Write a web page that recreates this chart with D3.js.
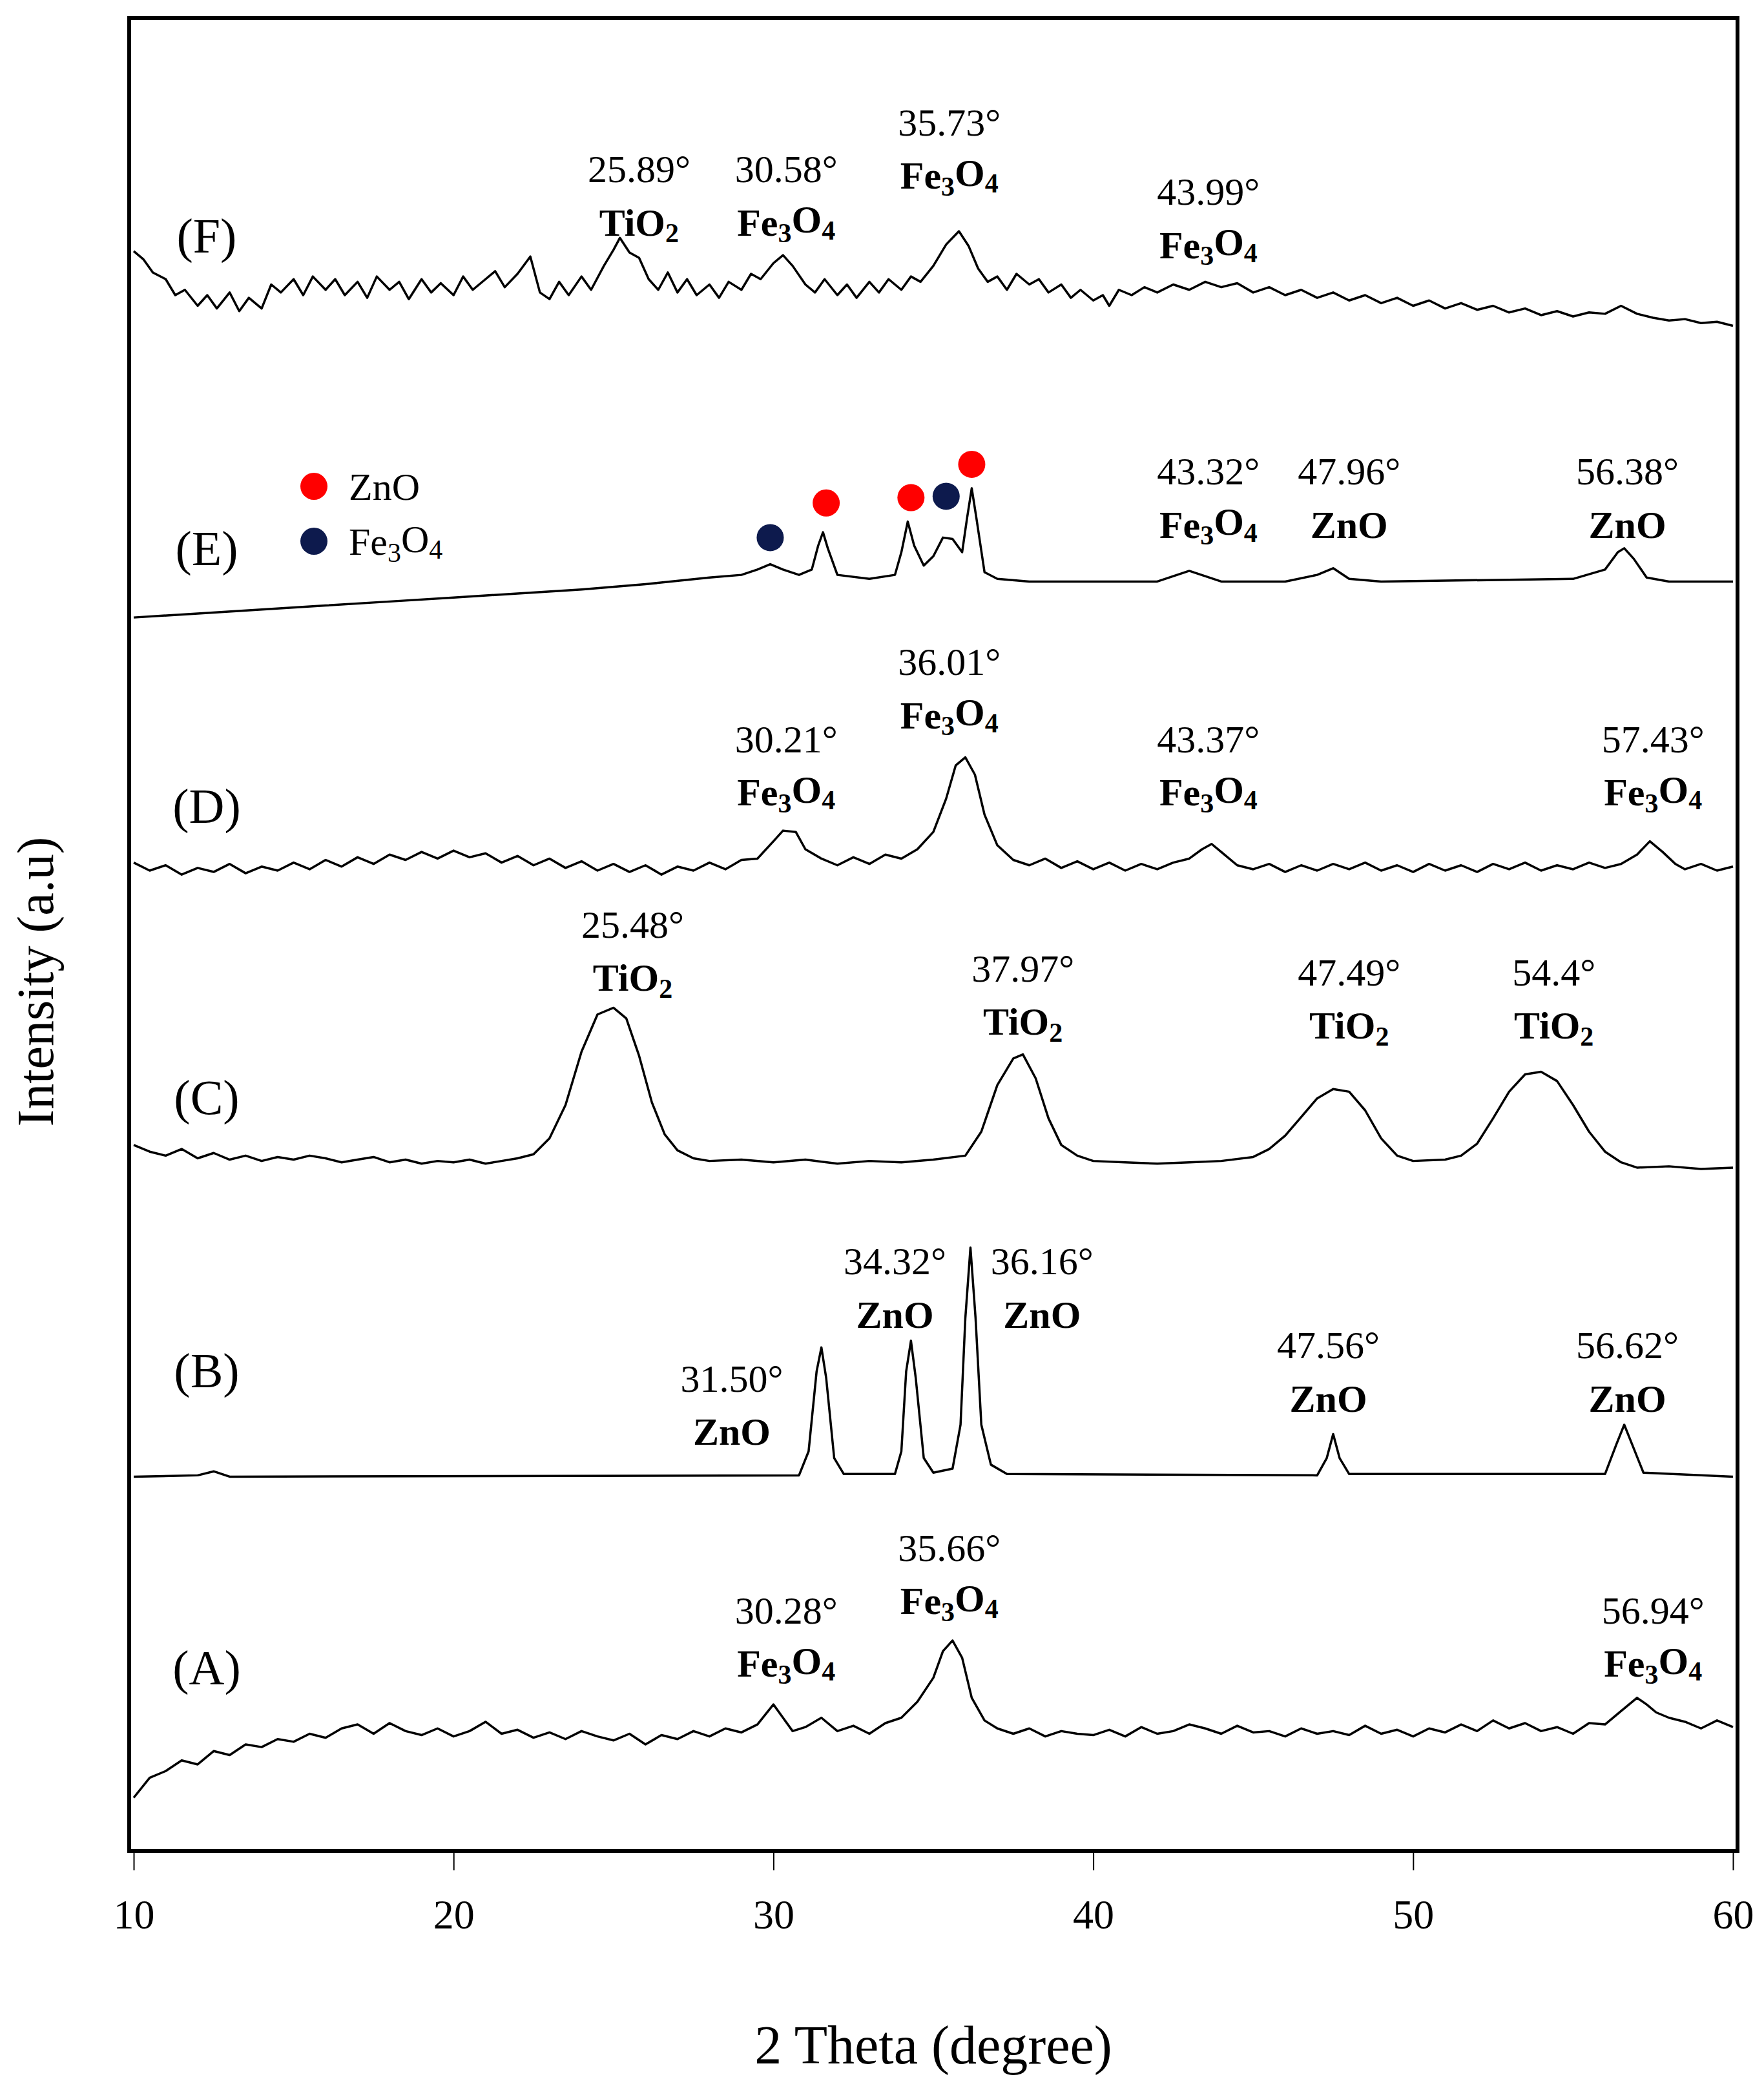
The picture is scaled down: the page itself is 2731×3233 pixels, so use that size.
<!DOCTYPE html>
<html><head><meta charset="utf-8">
<script src="https://cdn.jsdelivr.net/npm/d3@7"></script>
<style>body{margin:0;background:#fff}</style></head>
<body><svg id="c" width="2731" height="3233"></svg>
<script>
// Data: [2theta, intensity (arbitrary, stacked offset)]
const seriesA = [[10,40],[10.5,55],[11,60],[11.5,68],[12,65],[12.5,75],[13,72],[13.5,80],[14,78],[14.5,84],[15,82],[15.5,88],[16,85],[16.5,92],[17,95],[17.5,88],[18,96],[18.5,90],[19,87],[19.5,92],[20,86],[20.5,90],[21,97],[21.5,88],[22,91],[22.5,85],[23,89],[23.5,84],[24,90],[24.5,86],[25,83],[25.5,88],[26,80],[26.5,87],[27,84],[27.5,90],[28,86],[28.5,92],[29,89],[29.5,95],[30,110],[30.3,100],[30.6,90],[31,93],[31.5,100],[32,90],[32.5,94],[33,88],[33.5,96],[34,100],[34.5,112],[35,130],[35.3,150],[35.6,158],[35.9,145],[36.2,115],[36.6,98],[37,92],[37.5,88],[38,92],[38.5,86],[39,90],[39.5,88],[40,87],[40.5,91],[41,86],[41.5,93],[42,88],[42.5,90],[43,95],[43.5,92],[44,88],[44.5,94],[45,89],[45.5,90],[46,86],[46.5,92],[47,88],[47.5,90],[48,87],[48.5,94],[49,88],[49.5,91],[50,86],[50.5,92],[51,89],[51.5,95],[52,90],[52.5,98],[53,92],[53.5,96],[54,90],[54.5,93],[55,88],[55.5,96],[56,95],[56.5,105],[57,115],[57.3,110],[57.6,104],[58,100],[58.5,97],[59,92],[59.5,98],[60,93]];
const seriesB = [[10,281],[12,282],[12.5,285],[13,281],[30.8,282],[31.1,300],[31.35,360],[31.5,378],[31.65,355],[31.9,295],[32.2,283],[33.8,283],[34.0,300],[34.15,360],[34.3,383],[34.45,355],[34.7,295],[35.0,284],[35.6,287],[35.85,320],[36.0,400],[36.16,453],[36.32,400],[36.5,320],[36.8,290],[37.3,283],[47.0,282],[47.3,295],[47.5,313],[47.7,295],[48,283],[56.0,283],[56.35,305],[56.6,320],[56.85,305],[57.2,284],[60,281]];
const seriesC = [[10,530],[10.5,525],[11,522],[11.5,527],[12,520],[12.5,524],[13,519],[13.5,522],[14,518],[14.5,521],[15,519],[15.5,522],[16,520],[16.5,517],[17,519],[17.5,521],[18,517],[18.5,519],[19,516],[19.5,518],[20,517],[20.5,519],[21,516],[21.5,518],[22,520],[22.5,523],[23,535],[23.5,560],[24,600],[24.5,628],[25,633],[25.4,625],[25.8,597],[26.2,562],[26.6,538],[27,526],[27.5,520],[28,518],[29,519],[30,517],[31,519],[32,516],[33,518],[34,517],[35,519],[36,522],[36.5,540],[37,575],[37.5,595],[37.8,598],[38.2,580],[38.6,550],[39,530],[39.5,522],[40,518],[41,517],[42,516],[43,517],[44,518],[45,521],[45.5,527],[46,537],[46.5,551],[47,565],[47.5,572],[48,570],[48.5,556],[49,535],[49.5,522],[50,518],[51,519],[51.5,522],[52,531],[52.5,550],[53,570],[53.5,583],[54,585],[54.5,578],[55,560],[55.5,540],[56,525],[56.5,517],[57,513],[58,514],[59,512],[60,513]];
const seriesD = [[10,742],[10.5,736],[11,740],[11.5,733],[12,738],[12.5,735],[13,741],[13.5,734],[14,739],[14.5,736],[15,742],[15.5,737],[16,744],[16.5,739],[17,746],[17.5,741],[18,748],[18.5,744],[19,750],[19.5,745],[20,751],[20.5,746],[21,749],[21.5,742],[22,747],[22.5,740],[23,745],[23.5,738],[24,743],[24.5,736],[25,741],[25.5,735],[26,740],[26.5,733],[27,739],[27.5,736],[28,742],[28.5,737],[29,744],[29.5,745],[30,758],[30.3,766],[30.7,765],[31,752],[31.5,745],[32,740],[32.5,746],[33,741],[33.5,748],[34,745],[34.5,752],[35,765],[35.4,790],[35.7,815],[36,821],[36.3,808],[36.6,778],[37,755],[37.5,744],[38,740],[38.5,745],[39,738],[39.5,743],[40,737],[40.5,742],[41,736],[41.5,741],[42,737],[42.5,742],[43,745],[43.4,752],[43.7,756],[44,750],[44.5,740],[45,737],[45.5,741],[46,735],[46.5,740],[47,736],[47.5,741],[48,737],[48.5,742],[49,736],[49.5,740],[50,735],[50.5,741],[51,736],[51.5,740],[52,735],[52.5,741],[53,737],[53.5,742],[54,736],[54.5,740],[55,737],[55.5,742],[56,738],[56.5,741],[57,748],[57.4,758],[57.8,750],[58.2,741],[58.5,737],[59,741],[59.5,736],[60,739]];
const seriesE = [[10,926],[12,929],[14,932],[16,935],[18,938],[20,941],[22,944],[24,947],[26,951],[28,956],[29,958],[29.5,962],[29.9,966],[30.3,962],[30.8,958],[31.2,962],[31.4,980],[31.55,990],[31.7,978],[32,958],[33,955],[33.8,958],[34.0,975],[34.2,998],[34.4,980],[34.7,965],[35.0,972],[35.3,986],[35.6,985],[35.9,975],[36.05,1000],[36.2,1023],[36.35,1000],[36.6,960],[37,955],[38,953],[40,953],[42,953],[43,961],[43.5,957],[44,953],[46,953],[47,958],[47.5,963],[48,955],[49,953],[55,955],[56,962],[56.4,975],[56.6,978],[56.9,970],[57.3,956],[58,953],[60,953]];
const seriesF = [[10,1201],[10.3,1195],[10.6,1185],[11,1180],[11.3,1168],[11.6,1172],[12,1160],[12.3,1168],[12.6,1158],[13,1170],[13.3,1156],[13.6,1166],[14,1158],[14.3,1176],[14.6,1170],[15,1180],[15.3,1168],[15.6,1182],[16,1172],[16.3,1180],[16.6,1168],[17,1178],[17.3,1166],[17.6,1182],[18,1172],[18.3,1178],[18.6,1165],[19,1180],[19.3,1170],[19.6,1177],[20,1168],[20.3,1182],[20.6,1172],[21,1180],[21.3,1186],[21.6,1174],[22,1184],[22.4,1197],[22.7,1170],[23,1165],[23.3,1178],[23.6,1168],[24,1182],[24.3,1172],[24.7,1190],[25.0,1202],[25.2,1211],[25.5,1200],[25.8,1196],[26.1,1180],[26.4,1172],[26.7,1185],[27,1170],[27.3,1180],[27.6,1168],[28,1176],[28.3,1166],[28.6,1178],[29,1172],[29.3,1184],[29.6,1180],[30,1192],[30.3,1198],[30.6,1190],[31,1176],[31.3,1170],[31.6,1180],[32,1168],[32.3,1176],[32.6,1166],[33,1178],[33.3,1170],[33.6,1180],[34,1172],[34.3,1182],[34.6,1178],[35,1190],[35.4,1206],[35.8,1216],[36.1,1205],[36.4,1188],[36.7,1178],[37,1182],[37.3,1172],[37.6,1184],[38,1176],[38.3,1180],[38.6,1170],[39,1176],[39.3,1166],[39.6,1172],[40,1164],[40.3,1168],[40.5,1160],[40.8,1172],[41.2,1168],[41.6,1174],[42,1170],[42.5,1176],[43,1172],[43.5,1178],[44,1174],[44.5,1177],[45,1170],[45.5,1174],[46,1168],[46.5,1172],[47,1166],[47.5,1170],[48,1164],[48.5,1168],[49,1162],[49.5,1166],[50,1160],[50.5,1164],[51,1158],[51.5,1162],[52,1157],[52.5,1160],[53,1155],[53.5,1158],[54,1153],[54.5,1156],[55,1152],[55.5,1155],[56,1154],[56.5,1160],[57,1154],[57.5,1151],[58,1149],[58.5,1150],[59,1147],[59.5,1148],[60,1145]];
const seriesNames = ["(A)","(B)","(C)","(D)","(E)","(F)"];
const seriesLabelY = [138,361,566,785,978,1213];
const xTicks = [10,20,30,40,50,60];
// peak labels: [label centre (2theta), intensity of first line, angle text, phase]
const peakLabels = [
 [35.5,228,"35.66°","Fe3O4"],[30.4,181,"30.28°","Fe3O4"],[57.5,181,"56.94°","Fe3O4"],
 [33.8,443,"34.32°","ZnO"],[38.4,443,"36.16°","ZnO"],[28.7,355,"31.50°","ZnO"],[47.35,380,"47.56°","ZnO"],[56.7,380,"56.62°","ZnO"],
 [25.6,696,"25.48°","TiO2"],[37.8,663,"37.97°","TiO2"],[48.0,660,"47.49°","TiO2"],[54.4,660,"54.4°","TiO2"],
 [35.5,893,"36.01°","Fe3O4"],[30.4,835,"30.21°","Fe3O4"],[43.6,835,"43.37°","Fe3O4"],[57.5,835,"57.43°","Fe3O4"],
 [43.6,1036,"43.32°","Fe3O4"],[48.0,1036,"47.96°","ZnO"],[56.7,1036,"56.38°","ZnO"],
 [25.8,1263,"25.89°","TiO2"],[30.4,1263,"30.58°","Fe3O4"],[35.5,1298,"35.73°","Fe3O4"],[43.6,1246,"43.99°","Fe3O4"]
];
const markerPts = [[29.9,986,"Fe3O4"],[31.65,1012,"ZnO"],[34.3,1016,"ZnO"],[35.4,1017,"Fe3O4"],[36.2,1041,"ZnO"]];
const legendItems = [["ZnO","#ff0000"],["Fe3O4","#0d1a4d"]];
const markerColor = {"ZnO":"#ff0000","Fe3O4":"#0d1a4d"};

const svg = d3.select("#c");
const L=200,R=2690,T=28,B=2866;
const x = d3.scaleLinear().domain([10,60]).range([207,2683]);
const y = d3.scaleLinear().domain([0,1376]).range([B,T]);
const serif = "'Liberation Serif','DejaVu Serif',serif";
const line = d3.line().x(d=>x(d[0])).y(d=>y(d[1]));

[seriesA,seriesB,seriesC,seriesD,seriesE,seriesF].forEach(s=>{
  svg.append("path").attr("d",line(s)).attr("fill","none").attr("stroke","#000").attr("stroke-width",3.5).attr("stroke-linejoin","round");
});
svg.append("rect").attr("x",L).attr("y",T).attr("width",R-L).attr("height",B-T).attr("fill","none").attr("stroke","#000").attr("stroke-width",6);

const ax = svg.append("g").attr("transform",`translate(0,${B})`).call(d3.axisBottom(x).tickValues(xTicks).tickSize(30).tickPadding(45));
ax.select(".domain").remove();
ax.selectAll("line").attr("stroke","#000").attr("stroke-width",2);
ax.selectAll("text").attr("font-family",serif).attr("font-size",64).attr("fill","#000");

svg.append("text").attr("x",(L+R)/2).attr("y",3195).attr("text-anchor","middle").attr("font-family",serif).attr("font-size",84).text("2 Theta (degree)");
svg.append("text").attr("transform","translate(82,1520) rotate(-90)").attr("text-anchor","middle").attr("font-family",serif).attr("font-size",80).text("Intensity (a.u)");

seriesNames.forEach((n,i)=>{
  svg.append("text").attr("x",320).attr("y",y(seriesLabelY[i])).attr("dy","0.35em").attr("text-anchor","middle").attr("font-family",serif).attr("font-size",76).text(n);
});

function formula(t, s, bold){
  t.attr("font-weight",bold?"bold":"normal");
  const parts = s.match(/[A-Za-z]+|\d+/g);
  parts.forEach(p=>{
    if(/\d/.test(p)) t.append("tspan").attr("font-size","70%").attr("dy","0.25em").text(p);
    else { const ts=t.append("tspan").text(p); if(t.node().childNodes.length>1) ts.attr("dy","-0.25em"); }
  });
}
peakLabels.forEach(p=>{
  svg.append("text").attr("x",x(p[0])).attr("y",y(p[1])).attr("dy","0.35em").attr("text-anchor","middle").attr("font-family",serif).attr("font-size",60).text(p[2]);
  const t = svg.append("text").attr("x",x(p[0])).attr("y",y(p[1]-40)).attr("dy","0.35em").attr("text-anchor","middle").attr("font-family",serif).attr("font-size",60);
  formula(t,p[3],true);
});

markerPts.forEach(m=>{
  svg.append("circle").attr("cx",x(m[0])).attr("cy",y(m[1])).attr("r",21).attr("fill",markerColor[m[2]]);
});
legendItems.forEach((l,i)=>{
  const yy = 753 + i*85;
  svg.append("circle").attr("cx",486).attr("cy",yy).attr("r",21).attr("fill",l[1]);
  const t = svg.append("text").attr("x",540).attr("y",yy).attr("dy","0.35em").attr("font-family",serif).attr("font-size",60);
  formula(t,l[0],false);
});
</script></body></html>
